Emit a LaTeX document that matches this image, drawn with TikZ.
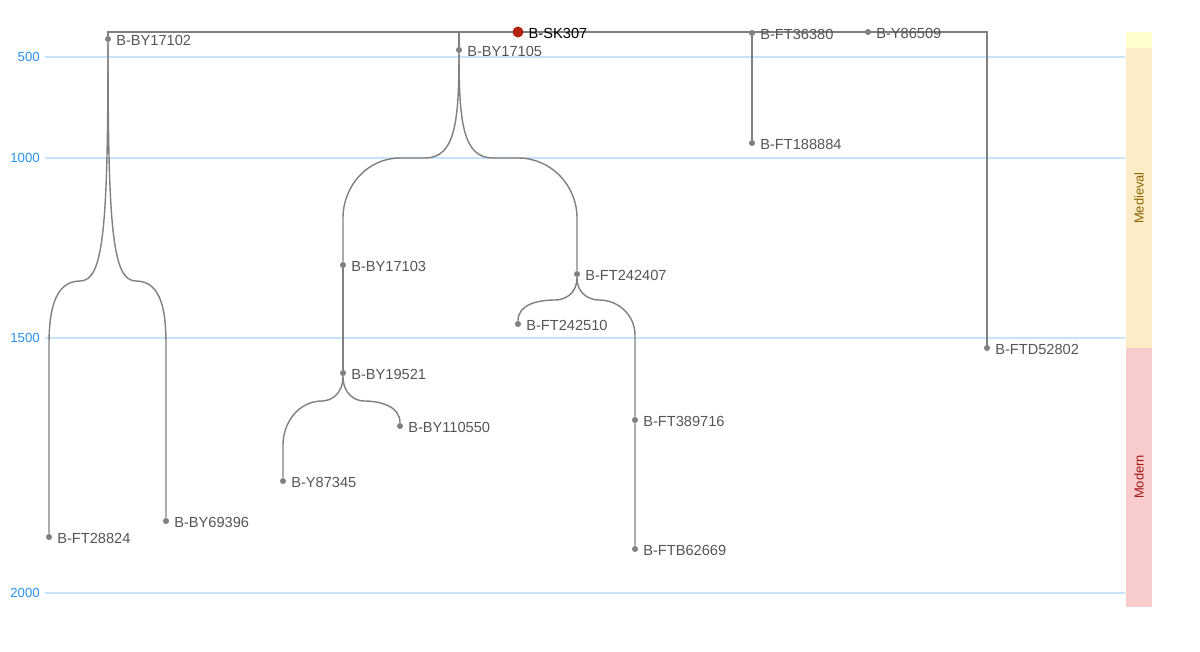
\documentclass[tikz,border=0pt]{standalone}
\usepackage{fontspec}
\setmainfont{Liberation Sans}
\usepackage{tikz}
\usetikzlibrary{backgrounds}
\definecolor{EdgeGray}{RGB}{128,128,128}
\definecolor{NodeText}{RGB}{85,85,85}
\definecolor{RootRed}{RGB}{178,34,16}
\definecolor{GridBlue}{RGB}{198,227,250}
\definecolor{TickBlue}{RGB}{40,145,240}
\definecolor{BandTop}{RGB}{255,255,204}
\definecolor{BandMed}{RGB}{252,236,200}
\definecolor{BandMod}{RGB}{248,204,204}
\definecolor{MedText}{RGB}{140,100,0}
\definecolor{ModText}{RGB}{160,20,20}

\begin{document}
\begin{tikzpicture}[x=0.025cm,y=-0.025cm,
        snp/.style={circle,fill=EdgeGray,inner sep=0pt,minimum size=4.3pt},
        root/.style={circle,fill=RootRed,inner sep=0pt,minimum size=7.8pt},
        tag/.style={text=NodeText,font=\fontsize{10.4}{12}\selectfont,yshift=-1pt},
        roottag/.style={text=black,font=\fontsize{10.4}{12}\selectfont,yshift=-1pt},
        tick/.style={text=TickBlue,font=\fontsize{9.4}{11}\selectfont,anchor=east,inner sep=0pt},
        band/.style={font=\fontsize{9.2}{11}\selectfont,rotate=90},
        grid/.style={GridBlue,line width=2pt},
        edge/.style={EdgeGray,line width=1pt}
      ]
        \useasboundingbox (0,0) rectangle (1200,651);
        % time bands
        \fill[BandTop] (1126,32) rectangle (1152,48);
        \fill[BandMed] (1126,48) rectangle (1152,348);
        \fill[BandMod] (1126,348) rectangle (1152,607);
        \node[band,text=MedText] (medieval) at (1139,198) {Medieval};
        \node[band,text=ModText] (modern) at (1139,477) {Modern};
        % haplogroups
        \node[root,label={[roottag]right:B-SK307}] (sk307) at (518,32) {};
        \node[snp,label={[tag]right:B-BY17102}] (by17102) at (108,39) {};
        \node[snp,label={[tag]right:B-BY17105}] (by17105) at (459,50) {};
        \node[snp,label={[tag]right:B-FT36380}] (ft36380) at (752,33) {};
        \node[snp,label={[tag]right:B-Y86509}] (y86509) at (868,32) {};
        \node[snp,label={[tag]right:B-FT188884}] (ft188884) at (752,143) {};
        \node[snp,label={[tag]right:B-FTD52802}] (ftd52802) at (987,348) {};
        \node[snp,label={[tag]right:B-BY17103}] (by17103) at (343,265) {};
        \node[snp,label={[tag]right:B-FT242407}] (ft242407) at (577,274) {};
        \node[snp,label={[tag]right:B-FT242510}] (ft242510) at (518,324) {};
        \node[snp,label={[tag]right:B-BY19521}] (by19521) at (343,373) {};
        \node[snp,label={[tag]right:B-BY110550}] (by110550) at (400,426) {};
        \node[snp,label={[tag]right:B-Y87345}] (y87345) at (283,481) {};
        \node[snp,label={[tag]right:B-FT389716}] (ft389716) at (635,420) {};
        \node[snp,label={[tag]right:B-FTB62669}] (ftb62669) at (635,549) {};
        \node[snp,label={[tag]right:B-FT28824}] (ft28824) at (49,537) {};
        \node[snp,label={[tag]right:B-BY69396}] (by69396) at (166,521) {};
        % bends of the tree
        \coordinate (tl) at (108,32);
        \coordinate (tr) at (987,32);
        \coordinate (j105) at (459,32);
        \coordinate (k1l) at (80,281);
        \coordinate (k1r) at (136,281);
        \coordinate (d1l) at (49,345);
        \coordinate (d1r) at (166,345);
        \coordinate (k2l) at (425,158);
        \coordinate (k2r) at (493,158);
        \coordinate (e2l) at (400,158);
        \coordinate (e2r) at (518,158);
        \coordinate (d2l) at (343,218);
        \coordinate (d2r) at (577,218);
        \coordinate (k3l) at (555,300);
        \coordinate (k3r) at (599,300);
        \coordinate (d3r) at (635,335);
        \coordinate (k4l) at (322,401);
        \coordinate (k4r) at (364,401);
        \coordinate (d4l) at (283,445);
        \begin{scope}[on background layer]
          \foreach \yr/\py in {500/57,1000/158,1500/338,2000/593} {
            \draw[grid] (45,\py) -- (1125,\py);
            \node[tick] (t\yr) at (40,\py) {\yr};
          }
          \draw[edge] (by17102) -- (tl) -- (tr) -- (ftd52802);
          \draw[edge] (j105) -- (by17105);
          \draw[edge] (ft36380) -- (ft188884);
          \draw[edge] (by17102) to[out=-90,in=0,out looseness=2,in looseness=0.25] (k1l)
                      to[out=180,in=90] (d1l) -- (ft28824);
          \draw[edge] (by17102) to[out=-90,in=180,out looseness=2,in looseness=0.25] (k1r)
                      to[out=0,in=90] (d1r) -- (by69396);
          \draw[edge] (by17105) to[out=-90,in=0,out looseness=1.6,in looseness=0.7] (k2l)
                      -- (e2l) to[out=180,in=90] (d2l) -- (by17103);
          \draw[edge] (by17105) to[out=-90,in=180,out looseness=1.6,in looseness=0.7] (k2r)
                      -- (e2r) to[out=0,in=90] (d2r) -- (ft242407);
          \draw[edge] (by17103) -- (by19521);
          \draw[edge] (ft242407) to[out=-90,in=0,out looseness=1.5,in looseness=0.6] (k3l)
                      to[out=180,in=90] (ft242510);
          \draw[edge] (ft242407) to[out=-90,in=180,out looseness=1.5,in looseness=0.6] (k3r)
                      to[out=0,in=90] (d3r) -- (ft389716) -- (ftb62669);
          \draw[edge] (by19521) to[out=-90,in=0,out looseness=1.5,in looseness=0.6] (k4l)
                      to[out=180,in=90] (d4l) -- (y87345);
          \draw[edge] (by19521) to[out=-90,in=180,out looseness=1.5,in looseness=0.6] (k4r)
                      to[out=0,in=90] (by110550);
        \end{scope}
      \end{tikzpicture}
\end{document}
